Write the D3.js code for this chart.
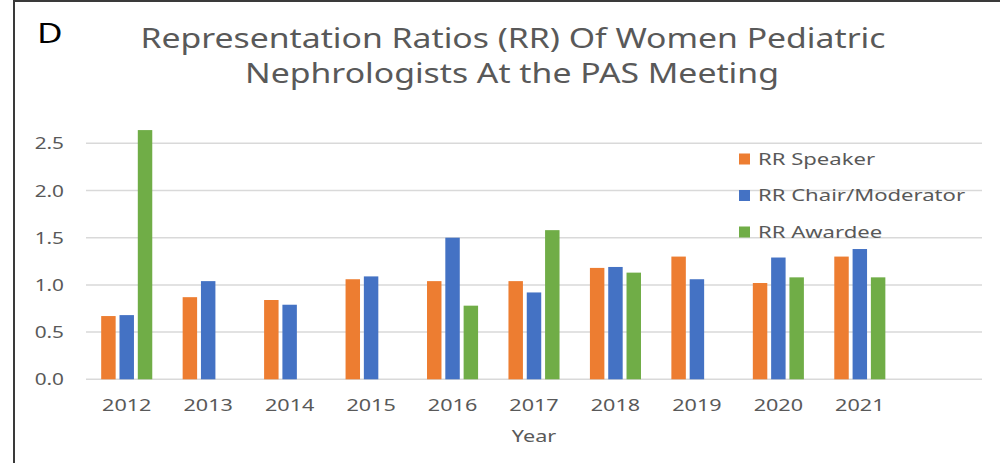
<!DOCTYPE html>
<html>
<head>
<meta charset="utf-8">
<script src="https://cdn.jsdelivr.net/npm/d3@7"></script>
<style>
  body { margin: 0; background: #fff; }
  text { font-family: "Noto Sans", sans-serif; }
</style>
</head>
<body>
<div id="viz"></div>
<script>
const width = 1000;
const height = 463;

// data
const years = ["2012", "2013", "2014", "2015", "2016", "2017", "2018", "2019", "2020", "2021"];
const seriesNames = ["RR Speaker", "RR Chair/Moderator", "RR Awardee"];
const speaker = [0.67, 0.87, 0.84, 1.06, 1.04, 1.04, 1.18, 1.30, 1.02, 1.30];
const chair = [0.68, 1.04, 0.79, 1.09, 1.50, 0.92, 1.19, 1.06, 1.29, 1.38];
const awardee = [2.64, null, null, null, 0.78, 1.58, 1.13, null, 1.08, 1.08];
const yTicks = [0, 0.5, 1.0, 1.5, 2.0, 2.5];
const colors = ["#ED7D31", "#4472C4", "#70AD47"];

const textColor = "#595959";

const plot = { left: 86, right: 982, top: 143.3, bottom: 379.3 };

const svg = d3.select('#viz')
    .append("svg")
    .attr('width', width)
    .attr('height', height);

svg.append("rect").attr("width", width).attr("height", height).attr("fill", "#fff");

// frame
svg.append("line").attr("x1", 14).attr("x2", 14).attr("y1", 0).attr("y2", height)
    .attr("stroke", "#3a3a3a").attr("stroke-width", 2);
svg.append("line").attr("x1", 14).attr("x2", width).attr("y1", 1).attr("y2", 1)
    .attr("stroke", "#3a3a3a").attr("stroke-width", 2);

// the source picture is widened horizontally, so text gets a sideways stretch
function addText(x, y, str, size, anchor, fill, stretch) {
    return svg.append("text")
        .attr("transform", `translate(${x},${y}) scale(${stretch || 1.3},1)`)
        .attr("text-anchor", anchor)
        .attr("font-size", size)
        .attr("fill", fill || textColor)
        .text(str);
}

// panel letter + title
addText(37, 43, "D", 27, "start", "#000", 1.3);
addText(513, 48, "Representation Ratios (RR) Of Women Pediatric", 27, "middle", textColor, 1.25);
addText(512, 83, "Nephrologists At the PAS Meeting", 27, "middle", textColor, 1.25);

// scales (an empty 11th slot is left at the right, as in the source)
const xScale = d3.scaleBand()
    .domain(years.concat([" "]))
    .range([plot.left, plot.right]);

const xInner = d3.scaleBand()
    .domain(seriesNames)
    .range([0, xScale.bandwidth()])
    .paddingInner(0.21)
    .paddingOuter(0.83);

const yScale = d3.scaleLinear()
    .domain([0, 2.5])
    .range([plot.bottom, plot.top]);

// gridlines
svg.append("g")
    .selectAll("line")
    .data(yTicks)
    .join("line")
    .attr("x1", plot.left)
    .attr("x2", plot.right)
    .attr("y1", d => yScale(d))
    .attr("y2", d => yScale(d))
    .attr("stroke", "#d9d9d9")
    .attr("stroke-width", 1.5);

// y tick labels
yTicks.forEach(t => {
    addText(64, yScale(t) + 6, d3.format(".1f")(t), 16, "end");
});

// bars
const allSeries = [speaker, chair, awardee];
const rows = [];
allSeries.forEach((vals, s) => {
    vals.forEach((v, i) => {
        if (v !== null) rows.push({ year: years[i], name: seriesNames[s], value: v, color: colors[s] });
    });
});

svg.append("g")
    .selectAll("rect")
    .data(rows)
    .join("rect")
    .attr("x", d => xScale(d.year) + xInner(d.name))
    .attr("width", xInner.bandwidth())
    .attr("y", d => yScale(d.value))
    .attr("height", d => yScale(0) - yScale(d.value))
    .attr("fill", d => d.color);

// x labels
years.forEach(y => {
    addText(xScale(y) + xScale.bandwidth() / 2, 411, y, 16, "middle", textColor, 1.35);
});
addText((plot.left + plot.right) / 2, 442, "Year", 16, "middle", textColor, 1.35);

// legend
seriesNames.forEach((n, i) => {
    const ly = 164.5 + i * 36.5;
    svg.append("rect")
        .attr("x", 739).attr("y", ly - 11)
        .attr("width", 11).attr("height", 11)
        .attr("fill", colors[i]);
    addText(758, ly, n, 16, "start", textColor, 1.38);
});
</script>
</body>
</html>
